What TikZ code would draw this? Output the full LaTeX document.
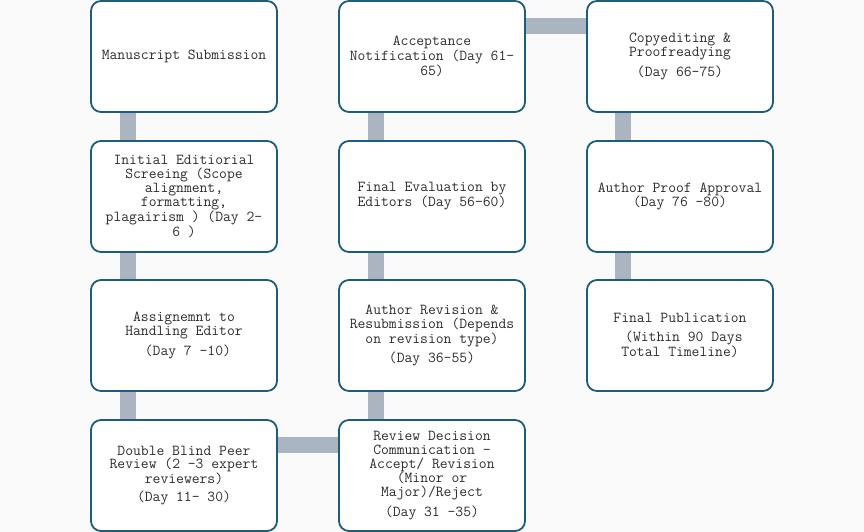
\documentclass[tikz,border=0pt]{standalone}
\usepackage{fontspec}
\usetikzlibrary{backgrounds}
\definecolor{bgc}{RGB}{250,250,250}
\definecolor{boxline}{RGB}{31,92,122}
\definecolor{barc}{RGB}{170,181,193}
\definecolor{txt}{RGB}{45,45,45}
\tikzset{
  stage/.style={rectangle, draw=boxline, line width=1.8pt, rounded corners=10pt,
    fill=white, minimum width=186pt, minimum height=111pt, inner sep=2pt,
    align=center, text=txt, font=\ttfamily\fontsize{15.2}{13.7}\selectfont},
  bar/.style={draw=barc, line width=16pt, line cap=butt}
}
\begin{document}
\begin{tikzpicture}[x=1pt,y=-1pt]
\useasboundingbox (0,0) rectangle (864,532);
\node[stage] (ms) at (184,56.5) {Manuscript Submission};
\node[stage] (ini) at (184,196.5) {Initial Editiorial\\Screeing (Scope\\alignment,\\formatting,\\plagairism ) (Day 2-\\6 )};
\node[stage] (asg) at (184,335.5) {Assignemnt to\\Handling Editor\\[4.5pt]~(Day 7 -10)};
\node[stage] (dbp) at (184,475.5) {Double Blind Peer\\Review (2 -3 expert\\reviewers)\\[4.5pt](Day 11- 30)};
\node[stage] (rdc) at (432,475.5) {Review Decision\\Communication –\\Accept/ Revision\\(Minor or\\Major)/Reject\\[4.5pt](Day 31 -35)};
\node[stage] (arr) at (432,335.5) {Author Revision \&\\Resubmission (Depends\\on revision type)\\[4.5pt](Day 36-55)};
\node[stage] (fev) at (432,196.5) {Final Evaluation by\\Editors (Day 56-60)};
\node[stage] (acc) at (432,56.5) {Acceptance\\Notification (Day 61-\\65)};
\node[stage] (cpy) at (680,56.5) {Copyediting \&\\Proofreadying\\[4.5pt](Day 66-75)};
\node[stage] (apa) at (680,196.5) {Author Proof Approval\\(Day 76 -80)};
\node[stage] (fpb) at (680,335.5) {Final Publication\\[6pt]~(Within 90 Days\\Total Timeline)};
\begin{pgfonlayer}{background}
\fill[bgc] (0,0) rectangle (864,532);
\draw[bar] ([xshift=38pt]ms.south west) -- ([xshift=38pt]ini.north west);
\draw[bar] ([xshift=38pt]ini.south west) -- ([xshift=38pt]asg.north west);
\draw[bar] ([xshift=38pt]asg.south west) -- ([xshift=38pt]dbp.north west);
\draw[bar] ([yshift=-26pt]dbp.north east) -- ([yshift=-26pt]rdc.north west);
\draw[bar] ([xshift=37.5pt]rdc.north west) -- ([xshift=37.5pt]arr.south west);
\draw[bar] ([xshift=37.5pt]arr.north west) -- ([xshift=37.5pt]fev.south west);
\draw[bar] ([xshift=37.5pt]fev.north west) -- ([xshift=37.5pt]acc.south west);
\draw[bar] ([yshift=-26pt]acc.north east) -- ([yshift=-26pt]cpy.north west);
\draw[bar] ([xshift=37pt]cpy.south west) -- ([xshift=37pt]apa.north west);
\draw[bar] ([xshift=37pt]apa.south west) -- ([xshift=37pt]fpb.north west);
\end{pgfonlayer}
\end{tikzpicture}
\end{document}
